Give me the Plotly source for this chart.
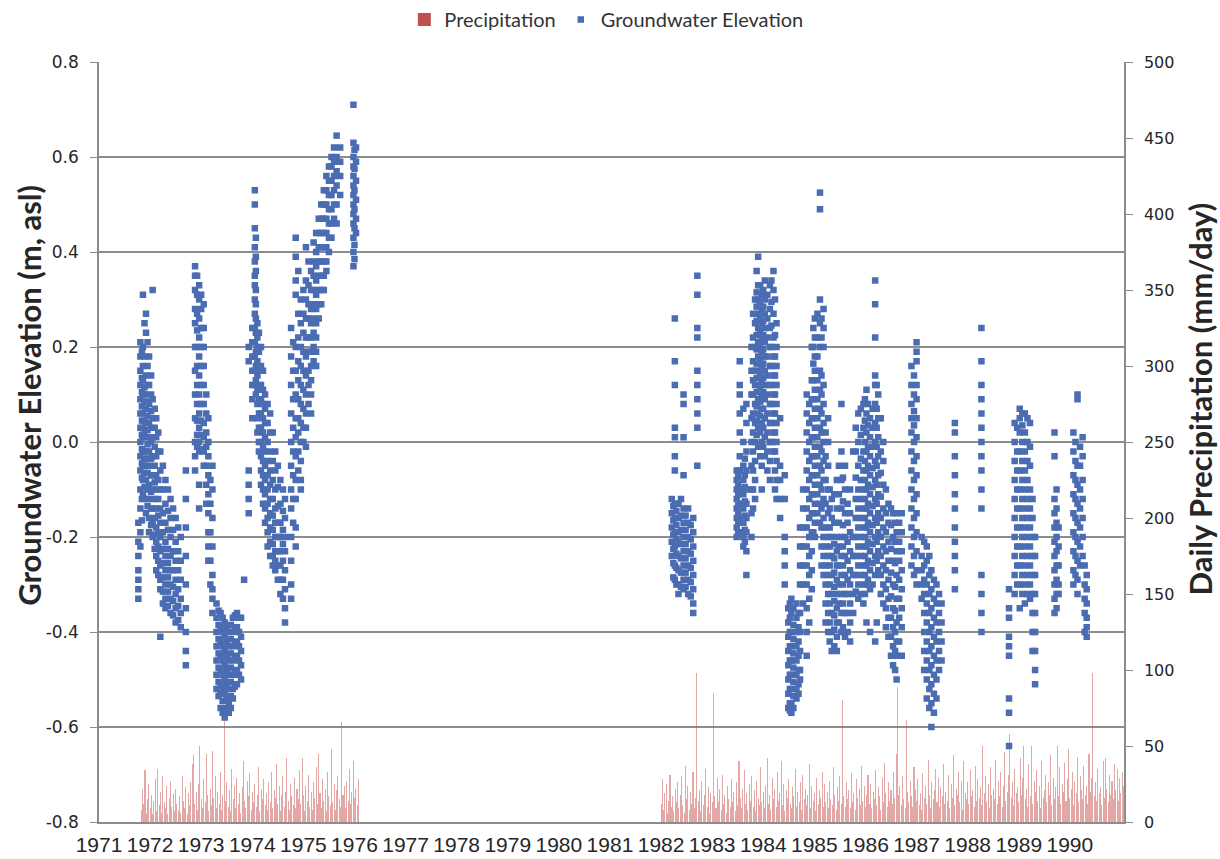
import plotly.graph_objects as go

# ---------------- data ----------------
year_ticks = list(range(1971, 1991))
year_labels = [str(y) for y in year_ticks]
gw_ticks = [-0.8, -0.6, -0.4, -0.2, 0.0, 0.2, 0.4, 0.6, 0.8]
gw_tick_labels = ["-0.8", "-0.6", "-0.4", "-0.2", "0.0", "0.2", "0.4", "0.6", "0.8"]
precip_ticks = [0, 50, 100, 150, 200, 250, 300, 350, 400, 450, 500]

# Groundwater elevation (m, asl): sampling times (decimal year) and the values read around each time
gw_time = [
    1971.77, 1971.81, 1971.86, 1971.92, 1971.98, 1972.05, 1972.12, 1972.20, 1972.30, 1972.40,
    1972.50, 1972.60, 1972.70, 1972.88, 1972.96, 1973.05, 1973.14, 1973.22, 1973.30, 1973.38,
    1973.46, 1973.54, 1973.62, 1973.70, 1973.78, 1973.84, 1973.93, 1974.00, 1974.05, 1974.10,
    1974.17, 1974.25, 1974.35, 1974.45, 1974.55, 1974.64, 1974.76, 1974.85, 1974.95, 1975.05,
    1975.15, 1975.25, 1975.35, 1975.45, 1975.55, 1975.65, 1975.72, 1975.98, 1976.03,
    1982.21, 1982.27, 1982.34, 1982.44, 1982.53, 1982.63, 1982.71,
    1983.48, 1983.54, 1983.61, 1983.67, 1983.77, 1983.84, 1983.90, 1983.97, 1984.03, 1984.13,
    1984.20, 1984.26, 1984.33, 1984.42, 1984.49, 1984.55, 1984.65, 1984.72, 1984.78, 1984.85,
    1984.95, 1985.01, 1985.11, 1985.18, 1985.27, 1985.34, 1985.44, 1985.53, 1985.60, 1985.70,
    1985.76, 1985.86, 1985.96, 1986.02, 1986.09, 1986.19, 1986.25, 1986.35, 1986.45, 1986.54,
    1986.61, 1986.71, 1986.90, 1987.00, 1987.10, 1987.20, 1987.29, 1987.39, 1987.49, 1987.75,
    1988.27, 1988.81, 1988.92, 1989.02, 1989.12, 1989.22, 1989.32, 1989.70, 1989.78, 1990.07,
    1990.15, 1990.25, 1990.33,
    # in-between readings
    1971.84, 1971.89, 1971.95, 1972.02, 1972.09, 1972.16, 1972.25, 1972.35, 1972.45, 1972.55,
    1972.92, 1973.00, 1973.10, 1973.18, 1973.34, 1973.42, 1973.50, 1973.58, 1973.66, 1973.74,
    1974.07, 1974.13, 1974.21, 1974.30, 1974.40, 1974.50, 1974.60, 1974.80, 1974.90, 1975.00,
    1975.10, 1975.20, 1975.30, 1975.40, 1975.50, 1975.60, 1976.00,
    1982.24, 1982.30, 1982.39, 1982.48, 1982.58, 1983.51, 1983.64, 1983.80, 1983.87, 1983.94,
    1984.00, 1984.08, 1984.16, 1984.23, 1984.52, 1984.59, 1984.69, 1984.90, 1984.98, 1985.06,
    1985.14, 1985.22, 1985.30, 1985.39, 1985.48, 1985.56, 1985.65, 1985.81, 1985.91, 1985.99,
    1986.05, 1986.14, 1986.22, 1986.30, 1986.40, 1986.50, 1986.58, 1986.66, 1986.95, 1987.15,
    1987.25, 1987.34, 1987.44, 1988.97, 1989.07, 1989.17, 1989.27, 1989.74, 1990.11, 1990.20,
    1990.29,
]
gw_level = [
    [-0.17, -0.21, -0.24, -0.27, -0.29, -0.31, -0.33],
    [0.21, 0.18, 0.15, 0.12, 0.09, 0.06, 0.03, 0.0, -0.03, -0.06, -0.10, -0.14, -0.19, -0.22],
    [0.31, 0.20, 0.16, 0.13, 0.10, 0.06, 0.03, 0.01, -0.02, -0.05, -0.08, -0.11],
    [0.27, 0.23, 0.14, 0.10, 0.07, 0.04, 0.01, -0.02, -0.05, -0.08, -0.12, -0.15],
    [0.18, 0.12, 0.08, 0.04, 0.01, -0.02, -0.05, -0.09, -0.12, -0.16, -0.19],
    [0.32, 0.09, 0.05, 0.01, -0.03, -0.07, -0.10, -0.14, -0.17, -0.20],
    [0.05, 0.01, -0.03, -0.07, -0.10, -0.14, -0.18, -0.21, -0.24, -0.27],
    [-0.02, -0.06, -0.10, -0.14, -0.17, -0.20, -0.23, -0.26, -0.29, -0.31, -0.41],
    [-0.08, -0.13, -0.17, -0.21, -0.24, -0.27, -0.30, -0.33, -0.35],
    [-0.12, -0.16, -0.20, -0.24, -0.27, -0.30, -0.33, -0.36],
    [-0.16, -0.21, -0.25, -0.29, -0.32, -0.35, -0.38],
    [-0.20, -0.25, -0.29, -0.33, -0.36, -0.39],
    [-0.06, -0.12, -0.18, -0.24, -0.30, -0.35, -0.40, -0.44, -0.47],
    [0.37, 0.35, 0.32, 0.28, 0.25, 0.20, 0.15, 0.10, 0.05, 0.0, -0.03, -0.06],
    [0.33, 0.30, 0.26, 0.22, 0.18, 0.14, 0.10, 0.06, 0.03, 0.0, -0.02, -0.09, -0.14],
    [0.29, 0.24, 0.20, 0.16, 0.12, 0.08, 0.04, 0.01, -0.02, -0.05],
    [0.05, 0.0, -0.03, -0.07, -0.11, -0.15, -0.19, -0.22, -0.25],
    [-0.05, -0.10, -0.16, -0.22, -0.28, -0.31, -0.33, -0.36],
    [-0.34, -0.37, -0.40, -0.43, -0.46, -0.49, -0.52],
    [-0.36, -0.39, -0.42, -0.45, -0.48, -0.51, -0.53, -0.56],
    [-0.38, -0.41, -0.44, -0.47, -0.50, -0.53, -0.56, -0.58],
    [-0.40, -0.43, -0.46, -0.49, -0.52, -0.55, -0.57],
    [-0.37, -0.40, -0.43, -0.46, -0.49, -0.52, -0.54],
    [-0.36, -0.39, -0.42, -0.45, -0.48, -0.51],
    [-0.37, -0.41, -0.44, -0.47, -0.50],
    [-0.29],
    [0.20, 0.17, -0.06, -0.09, -0.12, -0.15],
    [0.24, 0.21, 0.18, 0.15, 0.12, 0.09, 0.05],
    [0.53, 0.50, 0.45, 0.41, 0.38, 0.35, 0.33, 0.30, 0.27, 0.24, 0.21, 0.18, 0.15, 0.12],
    [0.25, 0.22, 0.20, 0.17, 0.14, 0.11, 0.08, 0.05, 0.02],
    [0.20, 0.16, 0.12, 0.09, 0.06, 0.03, 0.0, -0.03, -0.06, -0.09],
    [0.10, 0.07, 0.04, 0.01, -0.02, -0.05, -0.08, -0.11, -0.14, -0.17],
    [0.06, 0.02, -0.02, -0.06, -0.09, -0.12, -0.15, -0.18, -0.21, -0.24],
    [-0.02, -0.06, -0.10, -0.14, -0.17, -0.20, -0.23, -0.25, -0.27],
    [-0.08, -0.13, -0.17, -0.20, -0.23, -0.26, -0.29, -0.32],
    [-0.12, -0.16, -0.20, -0.23, -0.27, -0.31, -0.35, -0.38],
    [0.24, 0.18, 0.12, 0.06, 0.0, -0.05, -0.10, -0.14, -0.20, -0.25, -0.30, -0.33],
    [0.43, 0.39, 0.34, 0.31, 0.20, 0.15, 0.10, 0.05, 0.01, -0.03, -0.08, -0.12, -0.18, -0.22],
    [0.30, 0.25, 0.20, 0.16, 0.12, 0.08, 0.04, 0.0, -0.04, -0.08, -0.10],
    [0.41, 0.34, 0.30, 0.26, 0.22, 0.18, 0.14, 0.10, 0.06, 0.03, -0.01],
    [0.36, 0.32, 0.28, 0.25, 0.22, 0.19, 0.16, 0.13, 0.10, 0.06],
    [0.44, 0.40, 0.37, 0.34, 0.31, 0.28, 0.25, 0.22, 0.19, 0.16],
    [0.50, 0.47, 0.44, 0.41, 0.38, 0.35, 0.32, 0.29],
    [0.56, 0.53, 0.50, 0.47, 0.44, 0.41, 0.38, 0.36],
    [0.60, 0.58, 0.55, 0.52, 0.49, 0.46, 0.43],
    [0.645, 0.60, 0.57, 0.54, 0.50, 0.46],
    [0.62, 0.59, 0.56, 0.52],
    [0.71, 0.63, 0.60, 0.58, 0.56, 0.54, 0.52, 0.50, 0.48, 0.46, 0.43, 0.40, 0.37],
    [0.62, 0.59, 0.55, 0.51, 0.47, 0.44],
    [-0.12, -0.15, -0.18, -0.21, -0.24],
    [0.26, 0.17, 0.12, 0.03, 0.01, -0.03, -0.06, -0.13, -0.16, -0.19, -0.22, -0.26, -0.29],
    [-0.13, -0.16, -0.19, -0.21, -0.24, -0.27, -0.30, -0.32],
    [0.10, 0.08, 0.01, -0.07, -0.14, -0.17, -0.20, -0.23, -0.26, -0.29, -0.31],
    [-0.14, -0.17, -0.20, -0.23, -0.26, -0.29, -0.32],
    [-0.16, -0.19, -0.22, -0.25, -0.28, -0.31, -0.34, -0.36],
    [0.35, 0.31, 0.24, 0.22, 0.15, 0.12, 0.09, 0.06, 0.03, -0.05],
    [-0.06, -0.08, -0.10, -0.12, -0.14, -0.16, -0.18, -0.20],
    [0.17, 0.12, 0.10, 0.06, 0.02, -0.03, -0.06, -0.10, -0.13, -0.16, -0.19],
    [0.07, 0.0, -0.05, -0.08, -0.11, -0.14, -0.17, -0.20, -0.22],
    [0.08, 0.04, -0.02, -0.06, -0.10, -0.13, -0.16, -0.19, -0.23, -0.28],
    [0.20, 0.15, 0.10, 0.05, 0.0, -0.05, -0.10, -0.15, -0.20],
    [0.30, 0.25, 0.20, 0.15, 0.12, 0.08, 0.04, 0.0, -0.04, -0.08, -0.12],
    [0.39, 0.33, 0.30, 0.27, 0.24, 0.21, 0.18, 0.15, 0.12, 0.09, 0.06, 0.03, -0.01],
    [0.31, 0.28, 0.25, 0.22, 0.19, 0.16, 0.13, 0.10, 0.07, 0.04, 0.0, -0.05, -0.10],
    [0.34, 0.30, 0.27, 0.24, 0.21, 0.18, 0.15, 0.12, 0.09, 0.05, 0.01, -0.03],
    [0.33, 0.28, 0.24, 0.20, 0.16, 0.12, 0.08, 0.04, 0.0, -0.04, -0.08],
    [0.36, 0.32, 0.27, 0.22, 0.18, 0.14, 0.10, 0.06, 0.02, -0.02],
    [0.25, 0.20, 0.16, 0.12, 0.08, 0.04, 0.0, -0.04, -0.08, -0.12],
    [0.05, -0.05, -0.08, -0.12, -0.16],
    [-0.07, -0.12, -0.20, -0.23, -0.26, -0.30],
    [-0.35, -0.38, -0.41, -0.44, -0.47, -0.50, -0.53, -0.56],
    [-0.33, -0.36, -0.40, -0.43, -0.46, -0.49, -0.52, -0.55, -0.57],
    [-0.34, -0.37, -0.40, -0.43, -0.46, -0.49, -0.52, -0.54],
    [-0.18, -0.22, -0.26, -0.30, -0.36, -0.40, -0.44, -0.48, -0.50],
    [-0.10, -0.14, -0.18, -0.22, -0.26, -0.30, -0.34],
    [0.10, 0.06, 0.02, -0.02, -0.06, -0.10, -0.14, -0.18, -0.22, -0.26, -0.30, -0.35, -0.40, -0.45],
    [0.20, 0.13, 0.09, 0.05, 0.01, -0.03, -0.07, -0.11, -0.15, -0.19, -0.23, -0.27, -0.31],
    [0.26, 0.22, 0.18, 0.15, 0.11, 0.07, 0.03, -0.01, -0.05, -0.09, -0.13, -0.17, -0.20],
    [0.525, 0.49, 0.30, 0.25, 0.20, 0.15, 0.11, 0.07, 0.03, -0.01, -0.05, -0.09, -0.13, -0.17],
    [0.28, 0.24, 0.20, 0.12, 0.08, 0.04, 0.0, -0.04, -0.08, -0.12, -0.16, -0.20, -0.24, -0.28],
    [0.05, 0.0, -0.05, -0.10, -0.15, -0.20, -0.24, -0.28, -0.32, -0.36, -0.40],
    [-0.12, -0.16, -0.20, -0.24, -0.28, -0.32, -0.36, -0.40, -0.44],
    [-0.08, -0.14, -0.20, -0.23, -0.26, -0.29, -0.32, -0.35, -0.38, -0.41, -0.44],
    [0.08, -0.02, -0.08, -0.14, -0.20, -0.24, -0.28, -0.32, -0.36, -0.40],
    [-0.05, -0.10, -0.15, -0.20, -0.24, -0.28, -0.32, -0.36, -0.41],
    [-0.10, -0.15, -0.19, -0.23, -0.27, -0.30, -0.34, -0.38, -0.42],
    [-0.02, -0.20, -0.24, -0.28, -0.32, -0.36],
    [0.06, 0.0, -0.05, -0.10, -0.14, -0.18, -0.22, -0.26, -0.30, -0.33],
    [0.08, 0.03, -0.02, -0.06, -0.10, -0.14, -0.18, -0.22, -0.26, -0.30, -0.34],
    [0.11, 0.06, 0.02, -0.02, -0.06, -0.10, -0.14, -0.18, -0.22, -0.26, -0.30, -0.38],
    [0.05, 0.01, -0.03, -0.07, -0.11, -0.15, -0.19, -0.23, -0.27, -0.31, -0.40],
    [0.34, 0.29, 0.22, 0.14, 0.12, 0.08, 0.04, 0.0, -0.04, -0.08, -0.12, -0.16, -0.20, -0.24, -0.28, -0.42],
    [0.10, 0.05, 0.01, -0.03, -0.07, -0.11, -0.15, -0.19, -0.23, -0.27],
    [0.0, -0.04, -0.09, -0.14, -0.18, -0.22, -0.26, -0.30, -0.34],
    [-0.13, -0.17, -0.21, -0.25, -0.29, -0.33, -0.37, -0.41],
    [-0.15, -0.20, -0.25, -0.30, -0.35, -0.39, -0.43, -0.47],
    [-0.15, -0.19, -0.23, -0.28, -0.33, -0.38, -0.42, -0.45, -0.50],
    [-0.15, -0.19, -0.23, -0.27, -0.31, -0.35, -0.39, -0.45],
    [0.16, 0.12, 0.08, 0.05, 0.02, -0.02, -0.06, -0.10, -0.14, -0.18, -0.22, -0.26],
    [0.21, 0.19, 0.17, 0.12, 0.09, 0.05, 0.01, -0.03, -0.07, -0.11, -0.15, -0.19, -0.23, -0.27, -0.30],
    [-0.20, -0.24, -0.27, -0.30, -0.33],
    [-0.22, -0.25, -0.30, -0.34, -0.38, -0.42, -0.46, -0.50, -0.54],
    [-0.27, -0.31, -0.35, -0.39, -0.43, -0.47, -0.51, -0.55, -0.60],
    [-0.30, -0.34, -0.38, -0.42, -0.46, -0.50, -0.54],
    [-0.34, -0.38, -0.42, -0.46],
    [0.04, 0.02, -0.03, -0.07, -0.11, -0.14, -0.18, -0.21, -0.24, -0.27, -0.31],
    [0.24, 0.17, 0.12, 0.09, 0.06, 0.03, 0.0, -0.03, -0.06, -0.10, -0.14, -0.28, -0.32, -0.36, -0.40],
    [-0.31, -0.35, -0.37, -0.41, -0.43, -0.45, -0.54, -0.57, -0.64],
    [0.04, 0.0, -0.04, -0.08, -0.12, -0.16, -0.20, -0.24, -0.28, -0.32],
    [0.07, 0.05, 0.02, -0.02, -0.06, -0.10, -0.14, -0.18, -0.22, -0.26, -0.30, -0.35],
    [0.06, 0.02, -0.02, -0.06, -0.10, -0.14, -0.18, -0.22, -0.26, -0.30, -0.34],
    [0.04, -0.01, -0.05, -0.10, -0.14, -0.18, -0.22, -0.26, -0.30, -0.33],
    [-0.20, -0.24, -0.28, -0.32, -0.36, -0.40, -0.44, -0.48, -0.51],
    [0.02, -0.03, -0.12, -0.15, -0.18, -0.21, -0.24, -0.27, -0.30, -0.33, -0.36],
    [-0.18, -0.22, -0.26, -0.30, -0.32],
    [0.02, -0.02, -0.07, -0.11, -0.15, -0.19, -0.23, -0.27, -0.30],
    [0.10, 0.09, -0.05, -0.09, -0.13, -0.17, -0.21, -0.25, -0.29, -0.32],
    [0.01, -0.03, -0.08, -0.12, -0.16, -0.20, -0.24],
    [-0.28, -0.31, -0.34, -0.37, -0.39, -0.41],
    # in-between readings
    [0.19, 0.135, 0.105, 0.075, 0.045, 0.015, -0.015, -0.045, -0.075, -0.12, -0.165],
    [0.25, 0.18, 0.115, 0.085, 0.045, 0.02, -0.035, -0.065, -0.095],
    [0.21, 0.16, 0.12, 0.085, 0.055, 0.025, -0.005, -0.035, -0.065, -0.10, -0.135],
    [0.14, 0.10, 0.065, 0.03, 0.0, -0.035, -0.07, -0.105, -0.14, -0.175],
    [0.07, 0.03, -0.01, -0.05, -0.085, -0.12, -0.16, -0.195, -0.225],
    [0.02, -0.02, -0.08, -0.12, -0.155, -0.19, -0.22, -0.25, -0.28],
    [-0.05, -0.10, -0.15, -0.19, -0.225, -0.255, -0.285, -0.315, -0.34],
    [-0.10, -0.145, -0.185, -0.225, -0.255, -0.285, -0.315, -0.345],
    [-0.14, -0.185, -0.23, -0.27, -0.305, -0.335, -0.365],
    [-0.18, -0.23, -0.27, -0.31, -0.345, -0.375],
    [0.35, 0.31, 0.27, 0.235, 0.20, 0.16, 0.12, 0.08, 0.045, 0.015, -0.01],
    [0.31, 0.28, 0.24, 0.20, 0.16, 0.12, 0.08, 0.045, 0.015, -0.015],
    [0.10, 0.06, 0.02, -0.01, -0.05, -0.09, -0.13],
    [-0.08, -0.13, -0.19, -0.25, -0.30],
    [-0.355, -0.385, -0.415, -0.445, -0.475, -0.505, -0.535],
    [-0.37, -0.40, -0.43, -0.46, -0.49, -0.52, -0.545, -0.57],
    [-0.39, -0.42, -0.45, -0.48, -0.51, -0.54, -0.565],
    [-0.385, -0.415, -0.445, -0.475, -0.505, -0.535, -0.56],
    [-0.365, -0.395, -0.425, -0.455, -0.485, -0.515],
    [-0.37, -0.40, -0.43, -0.46, -0.49],
    [0.43, 0.39, 0.36, 0.32, 0.29, 0.26, 0.23, 0.19, 0.16, 0.13, 0.10],
    [0.23, 0.19, 0.15, 0.12, 0.09, 0.06, 0.03, 0.0, -0.02],
    [0.15, 0.11, 0.08, 0.05, 0.02, -0.01, -0.04, -0.07, -0.10, -0.13],
    [0.08, 0.04, 0.0, -0.04, -0.07, -0.10, -0.13, -0.16, -0.19, -0.22],
    [0.02, -0.04, -0.08, -0.12, -0.155, -0.185, -0.215, -0.24, -0.26],
    [-0.05, -0.095, -0.135, -0.17, -0.20, -0.23, -0.26, -0.29],
    [-0.10, -0.145, -0.185, -0.215, -0.25, -0.29, -0.33],
    [0.21, 0.15, 0.09, 0.03, -0.02, -0.07, -0.12, -0.17],
    [0.36, 0.27, 0.22, 0.17, 0.13, 0.09, 0.05, 0.02, -0.02, -0.06],
    [0.32, 0.27, 0.23, 0.19, 0.15, 0.11, 0.07, 0.03, 0.0],
    [0.38, 0.33, 0.29, 0.26, 0.22, 0.19, 0.15, 0.12, 0.08],
    [0.42, 0.38, 0.35, 0.32, 0.29, 0.26, 0.23, 0.20, 0.17],
    [0.47, 0.44, 0.41, 0.38, 0.35, 0.32, 0.29, 0.26],
    [0.53, 0.50, 0.47, 0.44, 0.41, 0.38, 0.35, 0.32],
    [0.58, 0.55, 0.52, 0.49, 0.46, 0.43, 0.40],
    [0.62, 0.59, 0.56, 0.53, 0.50, 0.47],
    [0.615, 0.575, 0.53, 0.49, 0.45, 0.415, 0.385],
    [-0.135, -0.165, -0.195, -0.225, -0.255, -0.285],
    [-0.145, -0.175, -0.205, -0.235, -0.265, -0.30],
    [-0.12, -0.155, -0.185, -0.215, -0.245, -0.275, -0.305],
    [-0.155, -0.185, -0.215, -0.245, -0.275, -0.305],
    [-0.175, -0.205, -0.235, -0.265, -0.295, -0.325],
    [-0.07, -0.09, -0.11, -0.13, -0.15, -0.17, -0.19],
    [-0.035, -0.07, -0.095, -0.125, -0.155, -0.185, -0.21],
    [0.27, 0.22, 0.17, 0.13, 0.10, 0.06, 0.02, -0.02, -0.06, -0.10, -0.14],
    [0.36, 0.315, 0.285, 0.255, 0.225, 0.195, 0.165, 0.135, 0.105, 0.075, 0.045, 0.015],
    [0.33, 0.295, 0.265, 0.235, 0.205, 0.175, 0.145, 0.115, 0.085, 0.055, 0.02, -0.03],
    [0.32, 0.285, 0.255, 0.225, 0.195, 0.165, 0.135, 0.105, 0.07, 0.03, -0.01],
    [0.31, 0.26, 0.22, 0.18, 0.14, 0.10, 0.06, 0.02, -0.02, -0.06],
    [0.34, 0.295, 0.245, 0.20, 0.16, 0.12, 0.08, 0.04, 0.0],
    [0.30, 0.225, 0.18, 0.14, 0.10, 0.06, 0.02, -0.02, -0.06, -0.10],
    [-0.34, -0.37, -0.40, -0.43, -0.46, -0.49, -0.52, -0.55, -0.565],
    [-0.35, -0.385, -0.415, -0.445, -0.475, -0.505, -0.535, -0.56],
    [-0.36, -0.39, -0.42, -0.45, -0.48, -0.51, -0.53],
    [0.08, 0.04, 0.0, -0.04, -0.08, -0.12, -0.16, -0.20, -0.24, -0.28, -0.33, -0.38],
    [0.24, 0.20, 0.165, 0.13, 0.09, 0.05, 0.01, -0.03, -0.07, -0.11, -0.15, -0.19],
    [0.27, 0.22, 0.18, 0.13, 0.09, 0.05, 0.01, -0.03, -0.07, -0.11, -0.15],
    [0.26, 0.22, 0.14, 0.10, 0.06, 0.02, -0.02, -0.06, -0.10, -0.14, -0.18, -0.22, -0.26],
    [0.02, -0.03, -0.08, -0.13, -0.18, -0.22, -0.26, -0.30, -0.34, -0.38],
    [-0.10, -0.14, -0.18, -0.22, -0.26, -0.30, -0.34, -0.38, -0.42],
    [-0.11, -0.17, -0.215, -0.245, -0.275, -0.305, -0.335, -0.365, -0.395, -0.43],
    [-0.05, -0.11, -0.17, -0.22, -0.26, -0.30, -0.34, -0.38],
    [-0.075, -0.125, -0.175, -0.22, -0.26, -0.30, -0.34, -0.39],
    [-0.13, -0.17, -0.21, -0.25, -0.29, -0.32, -0.36, -0.40],
    [0.03, -0.02, -0.075, -0.12, -0.16, -0.20, -0.24, -0.28, -0.315],
    [0.07, 0.015, -0.035, -0.08, -0.12, -0.16, -0.20, -0.24, -0.28, -0.32],
    [0.09, 0.045, 0.0, -0.04, -0.08, -0.12, -0.16, -0.20, -0.24, -0.28, -0.32],
    [0.08, 0.035, -0.01, -0.05, -0.09, -0.13, -0.17, -0.21, -0.25, -0.29],
    [0.07, 0.03, -0.01, -0.055, -0.095, -0.135, -0.175, -0.215, -0.255, -0.30],
    [0.12, 0.07, 0.03, -0.01, -0.05, -0.09, -0.13, -0.17, -0.21, -0.25, -0.38],
    [0.05, -0.02, -0.065, -0.115, -0.16, -0.20, -0.24, -0.28, -0.32],
    [-0.10, -0.15, -0.19, -0.23, -0.27, -0.31, -0.35, -0.39],
    [-0.14, -0.175, -0.225, -0.275, -0.325, -0.37, -0.41, -0.45],
    [-0.17, -0.21, -0.255, -0.305, -0.355, -0.40, -0.44, -0.48],
    [-0.17, -0.21, -0.25, -0.29, -0.33, -0.37, -0.42],
    [0.14, 0.10, 0.065, 0.035, 0.0, -0.04, -0.08, -0.12, -0.16, -0.20, -0.24, -0.28],
    [-0.21, -0.26, -0.29, -0.32, -0.36, -0.40, -0.44, -0.48],
    [-0.24, -0.28, -0.32, -0.36, -0.40, -0.44, -0.48, -0.52, -0.56],
    [-0.29, -0.33, -0.37, -0.41, -0.45, -0.49, -0.53, -0.57],
    [-0.32, -0.36, -0.40, -0.44, -0.48],
    [0.03, -0.02, -0.06, -0.10, -0.14, -0.18, -0.22, -0.26, -0.30],
    [0.06, 0.035, 0.0, -0.04, -0.08, -0.12, -0.16, -0.20, -0.24, -0.28, -0.32],
    [0.05, 0.0, -0.04, -0.08, -0.12, -0.16, -0.20, -0.24, -0.28, -0.32],
    [-0.12, -0.16, -0.20, -0.24, -0.28, -0.32, -0.36, -0.40, -0.44],
    [-0.10, -0.14, -0.17, -0.20, -0.23, -0.26, -0.29, -0.32, -0.35],
    [0.0, -0.04, -0.08, -0.12, -0.16, -0.20, -0.24, -0.28],
    [-0.01, -0.05, -0.10, -0.14, -0.18, -0.22, -0.26],
    [-0.26, -0.30, -0.33, -0.36, -0.40],
]

# Daily precipitation (mm/day), two record periods, sampled every 0.025 yr
precip_start_1 = 1971.825
precip_1 = [
    8, 22, 12, 34, 6, 15, 25, 9, 18, 5,
    14, 28, 7, 35, 11, 20, 6, 30, 13, 9,
    24, 5, 16, 27, 10, 19, 7, 22, 12, 8,
    17, 6, 30, 14, 9, 23, 5, 19, 11, 26,
    38, 44, 12, 20, 8, 25, 50, 15, 9, 28,
    13, 45, 18, 7, 22, 11, 47, 16, 30, 9,
    20, 12, 33, 8, 18, 67, 14, 26, 10, 21,
    7, 35, 15, 24, 9, 29, 12, 19, 6, 23,
    40, 14, 9, 27, 17, 32, 8, 20, 13, 25,
    10, 18, 36, 7, 22, 15, 28, 11, 19, 8,
    26, 13, 33, 9, 21, 16, 38, 12, 24, 7,
    18, 30, 10, 20, 42, 14, 8, 25, 17, 11,
    29, 9, 22, 15, 34, 12, 42, 18, 7, 24,
    14, 31, 10, 20, 8, 26, 16, 36, 12, 45,
    19, 9, 28, 14, 22, 7, 33, 17, 11, 48,
    13, 25, 8, 21, 30, 15, 10, 66, 18, 24,
    9, 27, 14, 35, 12, 20, 40, 16, 22, 11,
    28,
]
precip_start_2 = 1982.0
precip_2 = [
    12, 28, 8, 19, 25, 6, 14, 31, 10, 17,
    7, 22, 13, 26, 9, 18, 30, 11, 6, 37,
    15, 24, 8, 20, 12, 33, 9, 16, 98, 14,
    21, 7, 27, 11, 18, 35, 10, 23, 6, 19,
    13, 85, 17, 9, 29, 14, 22, 8, 31, 12,
    18, 6, 24, 15, 10, 28, 13, 20, 7, 26,
    11, 40, 16, 9, 22, 34, 12, 19, 8, 25,
    14, 30, 10, 21, 7, 27, 16, 11, 36, 13,
    20, 9, 24, 42, 12, 18, 8, 29, 15, 22,
    10, 33, 14, 19, 40, 11, 25, 7, 21, 16,
    28, 12, 9, 23, 17, 35, 10, 20, 13, 26,
    8, 31, 15, 22, 11, 18, 38, 9, 24, 14,
    19, 7, 29, 12, 21, 16, 33, 10, 25, 13,
    20, 9, 27, 15, 11, 36, 18, 8, 23, 14,
    30, 12, 80, 17, 10, 26, 15, 21, 9, 32,
    13, 19, 8, 28, 16, 22, 11, 37, 14, 24,
    10, 18, 31, 12, 25, 9, 20, 15, 34, 11,
    23, 17, 8, 29, 13, 39, 19, 10, 26, 14,
    21, 12, 33, 16, 45, 89, 18, 24, 11, 30,
    15, 9, 67, 20, 13, 27, 17, 10, 36, 22,
    14, 28, 11, 19, 8, 32, 16, 24, 12, 41,
    18, 9, 26, 15, 21, 35, 13, 29, 10, 23,
    17, 38, 12, 20, 14, 31, 9, 25, 16, 44,
    11, 22, 18, 33, 13, 27, 8, 40, 19, 15,
    26, 12, 34, 17, 21, 10, 37, 14, 28, 16,
    23, 11, 50, 19, 30, 13, 25, 9, 36, 18,
    22, 15, 41, 12, 27, 17, 33, 10, 24, 46,
    14, 20, 31, 58, 16, 26, 11, 35, 19, 23,
    13, 42, 18, 29, 50, 15, 22, 10, 38, 17,
    50, 12, 27, 20, 34, 14, 24, 9, 40, 16,
    21, 31, 13, 26, 18, 44, 11, 29, 15, 23,
    50, 17, 36, 12, 25, 20, 39, 14, 28, 48,
    16, 22, 33, 11, 27, 19, 43, 13, 30, 21,
    15, 37, 18, 24, 12, 45, 20, 29, 98, 17,
    26, 14, 35, 19, 23, 11, 40, 16, 42, 22,
    13, 31, 18, 27, 15, 38, 21, 35, 14, 29,
    19, 33, 24,
]
precip_step = 0.025

# ---------------- build traces ----------------
gw_x, gw_y = [], []
for t, vals in zip(gw_time, gw_level):
    for v in vals:
        gw_x.append(t)
        gw_y.append(v)

p_x = [precip_start_1 + i * precip_step for i in range(len(precip_1))] + \
      [precip_start_2 + i * precip_step for i in range(len(precip_2))]
p_y = precip_1 + precip_2

RED = "#c0504d"
BLUE = "#4a6cb3"
GRID = "#8c8c8c"
TXT = "#262626"

fig = go.Figure()
fig.add_trace(go.Bar(
    x=p_x, y=p_y, width=0.02, yaxis="y",
    marker=dict(color="rgba(200,80,75,0.5)", line=dict(width=0)),
    showlegend=False, hoverinfo="x+y",
))
fig.add_trace(go.Scatter(
    x=[None], y=[None], mode="markers", name="Precipitation",
    marker=dict(symbol="square", size=13, color=RED),
))
fig.add_trace(go.Scatter(
    x=gw_x, y=gw_y, yaxis="y2", mode="markers", name="Groundwater Elevation",
    marker=dict(symbol="square", size=6.5, color=BLUE, line=dict(width=0)),
))

fig.update_layout(
    width=1220, height=859,
    margin=dict(l=99, r=96, t=62, b=37, autoexpand=False),
    paper_bgcolor="white", plot_bgcolor="white",
    bargap=0,
    showlegend=True,
    legend=dict(
        orientation="h", xref="container", yref="container",
        x=0.497, xanchor="center", y=1.0, yanchor="top",
        font=dict(family="Lato, sans-serif", size=20, color="#333333"),
        itemwidth=30, traceorder="normal",
    ),
    xaxis=dict(
        range=[1971, 1991.06], tickvals=year_ticks, ticktext=year_labels,
        showgrid=False, zeroline=False, showline=True, linecolor=GRID, linewidth=1.5,
        ticks="", ticklabelstandoff=3, automargin=False,
        tickfont=dict(family="Liberation Sans Narrow, Arial Narrow, sans-serif", size=21, color=TXT),
    ),
    yaxis=dict(
        side="right", range=[0, 500], tickvals=precip_ticks,
        showgrid=False, zeroline=False, showline=True, linecolor=GRID, linewidth=1.5,
        ticks="outside", ticklen=7, tickcolor=GRID, ticklabelstandoff=8, automargin=False,
        tickfont=dict(family="DejaVu Sans, Verdana, sans-serif", size=16, color=TXT),
    ),
    yaxis2=dict(
        overlaying="y", side="left", range=[-0.8, 0.8],
        tickvals=gw_ticks, ticktext=gw_tick_labels,
        showgrid=True, gridcolor=GRID, gridwidth=1.5, zeroline=False,
        showline=True, linecolor=GRID, linewidth=1.5,
        ticks="outside", ticklen=7, tickcolor=GRID, ticklabelstandoff=8, automargin=False,
        tickfont=dict(family="DejaVu Sans, Verdana, sans-serif", size=17, color=TXT),
    ),
    annotations=[
        dict(text="<b>Groundwater Elevation (m, asl)</b>", textangle=-90,
             xref="paper", yref="paper", x=-0.0683, y=0.562, showarrow=False,
             xanchor="center", yanchor="middle",
             font=dict(family="Lato, sans-serif", size=31, color=TXT)),
        dict(text="<b>Daily Precipitation (mm/day)</b>", textangle=-90,
             xref="paper", yref="paper", x=1.074, y=0.557, showarrow=False,
             xanchor="center", yanchor="middle",
             font=dict(family="Lato, sans-serif", size=31, color=TXT)),
    ],
)

fig.write_html("out.html", config={"displayModeBar": False},
               post_script="document.body.style.margin='0px';")
